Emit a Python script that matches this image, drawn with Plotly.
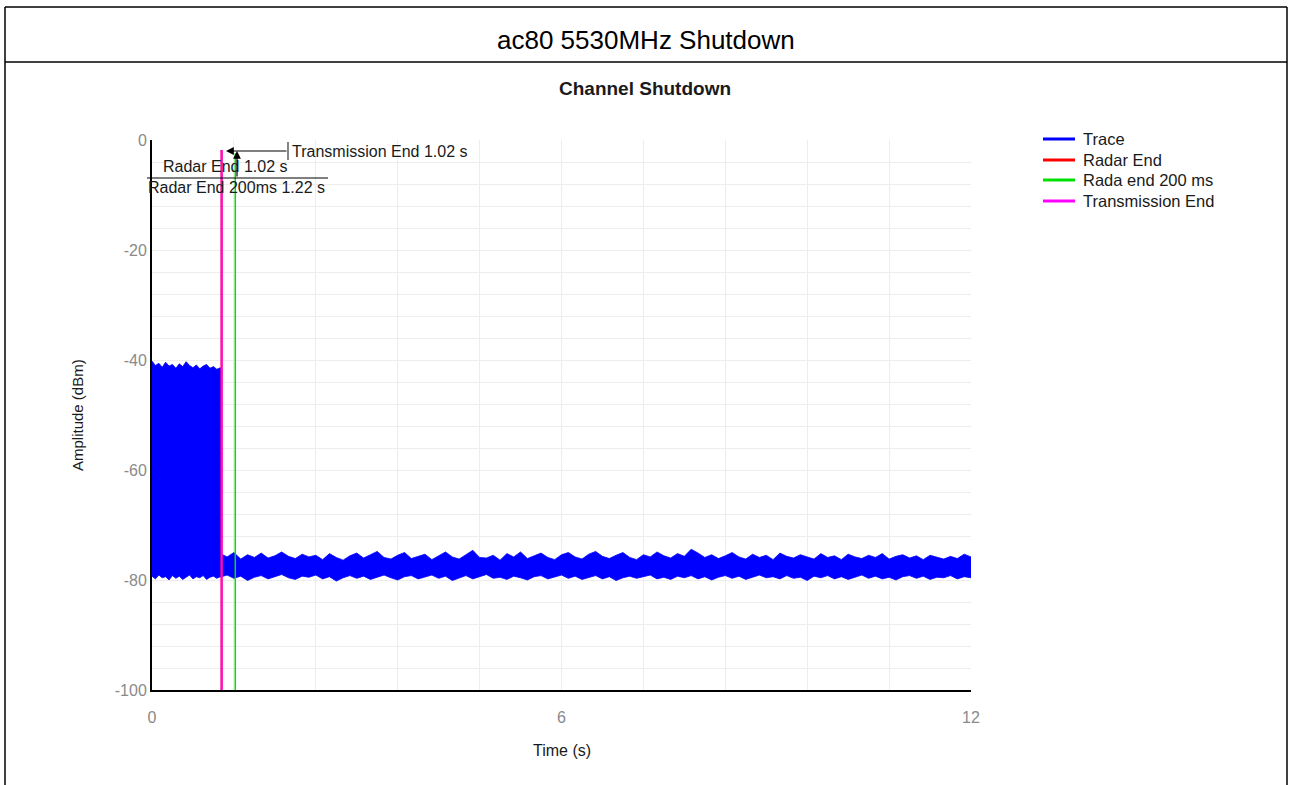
import plotly.graph_objects as go

# ---------------- data ----------------
# Transmission part (0 .. 1.02 s): envelope of the dense trace
T1 = [0.00, 0.05, 0.10, 0.15, 0.20, 0.25, 0.30, 0.35, 0.40, 0.45, 0.50,
      0.55, 0.60, 0.65, 0.70, 0.75, 0.80, 0.85, 0.90, 0.95, 1.00, 1.02]
U1 = [-40.2, -41.0, -40.6, -41.3, -40.4, -41.1, -40.8, -41.5, -40.7, -41.2, -40.3,
      -41.0, -41.4, -40.9, -41.6, -41.1, -40.8, -41.5, -41.2, -41.7, -41.4, -41.8]
L1 = [-79.3, -79.8, -79.1, -79.6, -79.4, -80.0, -79.2, -79.7, -79.3, -79.9, -79.5,
      -79.1, -79.8, -79.4, -79.6, -79.2, -79.9, -79.5, -79.3, -79.7, -79.4, -79.6]

# Noise floor after shutdown (1.02 .. 12 s): envelope of the dense trace
T2 = [1.02, 1.1, 1.2, 1.3, 1.4, 1.5, 1.6, 1.7, 1.8, 1.9, 2.0,
      2.1, 2.2, 2.3, 2.4, 2.5, 2.6, 2.7, 2.8, 2.9, 3.0,
      3.1, 3.2, 3.3, 3.4, 3.5, 3.6, 3.7, 3.8, 3.9, 4.0,
      4.1, 4.2, 4.3, 4.4, 4.5, 4.6, 4.7, 4.8, 4.9, 5.0,
      5.1, 5.2, 5.3, 5.4, 5.5, 5.6, 5.7, 5.8, 5.9, 6.0,
      6.1, 6.2, 6.3, 6.4, 6.5, 6.6, 6.7, 6.8, 6.9, 7.0,
      7.1, 7.2, 7.3, 7.4, 7.5, 7.6, 7.7, 7.8, 7.9, 8.0,
      8.1, 8.2, 8.3, 8.4, 8.5, 8.6, 8.7, 8.8, 8.9, 9.0,
      9.1, 9.2, 9.3, 9.4, 9.5, 9.6, 9.7, 9.8, 9.9, 10.0,
      10.1, 10.2, 10.3, 10.4, 10.5, 10.6, 10.7, 10.8, 10.9, 11.0,
      11.1, 11.2, 11.3, 11.4, 11.5, 11.6, 11.7, 11.8, 11.9, 12.0]
U2 = [-75.3, -75.8, -75.0, -76.2, -75.4, -75.9, -75.1, -76.0, -75.6, -74.9, -75.7,
      -76.1, -75.3, -75.8, -75.5, -76.3, -75.2, -75.9, -76.4, -75.6, -75.1,
      -76.0, -75.4, -74.8, -75.9, -76.2, -75.5, -75.0, -76.1, -75.7, -75.3,
      -76.3, -75.6, -74.9, -75.8, -76.2, -75.4, -74.6, -75.9, -76.0, -75.5,
      -76.4, -75.2, -75.8, -74.9, -76.1, -75.6, -75.1, -75.9, -76.3, -75.4,
      -75.0, -75.8, -76.2, -75.3, -74.8, -75.7, -76.1, -75.5, -75.0, -75.9,
      -76.3, -75.4, -75.8, -74.9, -75.6, -76.0, -75.2, -75.7, -74.4, -75.1,
      -75.9, -75.4, -76.1, -75.6, -75.0, -75.8, -76.2, -75.3, -75.9, -75.5,
      -76.3, -75.1, -75.7, -76.0, -75.4, -75.8, -76.2, -75.2, -75.9, -75.6,
      -76.3, -75.3, -75.8, -76.1, -75.5, -75.9, -75.2, -76.2, -75.7, -75.4,
      -76.0, -75.6, -76.3, -75.5, -75.9, -76.2, -75.7, -76.1, -75.3, -75.8]
L2 = [-79.4, -79.1, -79.7, -79.3, -80.1, -79.5, -79.2, -79.8, -79.4, -79.0, -79.6,
      -79.9, -79.3, -79.5, -79.1, -79.8, -79.4, -80.2, -79.6, -79.2, -79.7,
      -79.3, -79.9, -79.5, -79.1, -79.6, -80.0, -79.4, -79.2, -79.8, -79.5,
      -79.1, -79.7, -79.3, -80.1, -79.6, -79.2, -79.8, -79.4, -79.0, -79.7,
      -79.5, -79.9, -79.3, -79.6, -80.0, -79.4, -79.2, -79.8, -79.5, -79.1,
      -79.7, -79.3, -79.9, -79.5, -79.2, -79.8, -79.4, -80.1, -79.6, -79.3,
      -79.7, -79.4, -79.1, -79.8, -79.5, -79.9, -79.3, -79.6, -79.2, -79.8,
      -79.4, -80.0, -79.5, -79.2, -79.7, -79.3, -79.9, -79.5, -79.1, -79.6,
      -79.4, -79.8, -79.2, -79.7, -79.5, -80.1, -79.3, -79.6, -79.2, -79.8,
      -79.4, -79.9, -79.5, -79.1, -79.7, -79.3, -79.8, -79.5, -80.0, -79.4,
      -79.2, -79.7, -79.3, -79.9, -79.5, -79.6, -79.2, -79.8, -79.4, -79.6]

RADAR_END = 1.02          # s
RADAR_END_200 = 1.22      # s
TX_END = 1.02             # s
Y_MIN, Y_MAX = -100, 0
X_MIN, X_MAX = 0, 12
Y_TICKS = [0, -20, -40, -60, -80, -100]
Y_TICK_LABELS = ["0", "-20", "-40", "-60", "-80", "-100"]
X_TICKS = [0, 6, 12]
X_TICK_LABELS = ["0", "6", "12"]

SERIES_NAMES = ["Trace", "Radar End", "Rada end 200 ms", "Transmission End"]
SERIES_COLORS = ["#0000ff", "#ff0000", "#00e000", "#ff00ff"]

T = T1 + T2
U = U1 + U2
L = L1 + L2

FONT = "Liberation Sans, Arial, sans-serif"

fig = go.Figure()

# trace envelope (dense trace rendered as a filled band)
fig.add_trace(go.Scatter(x=T, y=U, mode="lines", name=SERIES_NAMES[0],
                         line=dict(color=SERIES_COLORS[0], width=0.8),
                         showlegend=False, hoverinfo="skip"))
fig.add_trace(go.Scatter(x=T, y=L, mode="lines", name=SERIES_NAMES[0],
                         line=dict(color=SERIES_COLORS[0], width=0.8),
                         fill="tonexty", fillcolor=SERIES_COLORS[0], showlegend=False, hoverinfo="skip"))

# vertical marker lines
fig.add_trace(go.Scatter(x=[RADAR_END, RADAR_END], y=[Y_MIN, -1.8], mode="lines",
                         name=SERIES_NAMES[1],
                         line=dict(color=SERIES_COLORS[1], width=2), showlegend=False))
fig.add_trace(go.Scatter(x=[RADAR_END_200, RADAR_END_200], y=[Y_MIN, -2.4], mode="lines",
                         name=SERIES_NAMES[2],
                         line=dict(color=SERIES_COLORS[2], width=1.5), showlegend=False))
fig.add_trace(go.Scatter(x=[TX_END, TX_END], y=[Y_MIN, -1.8], mode="lines",
                         name=SERIES_NAMES[3],
                         line=dict(color=SERIES_COLORS[3], width=2), showlegend=False))


def px(xp):
    return (xp - 152) / 819


def py(yp):
    return (690 - yp) / 550


# ---------------- legend (drawn manually for exact row spacing) ----------------
LEGEND_ROWS_Y = [139, 160, 180, 201]
for name, col, yy in zip(SERIES_NAMES, SERIES_COLORS, LEGEND_ROWS_Y):
    fig.add_shape(type="line", xref="paper", yref="paper", x0=px(1043), x1=px(1075),
                  y0=py(yy), y1=py(yy), line=dict(color=col, width=3))
    fig.add_annotation(x=px(1081), y=py(yy), xref="paper", yref="paper", text=name,
                       showarrow=False, xanchor="left", yanchor="middle",
                       font=dict(family=FONT, size=16.5, color="#1a1a1a"))

# ---------------- annotations inside the plot ----------------
txt_col = "#1a1a1a"
# Transmission End arrow (head at left, tail 62 px to the right)
fig.add_annotation(x=px(226), y=py(151), ax=62, ay=0,
                   xref="paper", yref="paper", text="", showarrow=True, arrowhead=2,
                   arrowsize=1.3, arrowwidth=1.2, arrowcolor="#000000")
fig.add_shape(type="line", x0=px(288), x1=px(288), y0=py(142), y1=py(160), xref="paper", yref="paper",
              line=dict(color="#333333", width=1.2))
fig.add_annotation(x=px(290), y=py(151), xref="paper", yref="paper", text="Transmission End 1.02 s",
                   showarrow=False, xanchor="left", yanchor="middle",
                   font=dict(family=FONT, size=16, color=txt_col))
# Radar End arrow (vertical, head at top)
fig.add_annotation(x=px(237), y=py(151), ax=0, ay=27,
                   xref="paper", yref="paper", text="", showarrow=True,
                   arrowhead=2, arrowsize=1.3, arrowwidth=1.2, arrowcolor="#000000")
fig.add_annotation(x=px(161), y=py(166), xref="paper", yref="paper", text="Radar End 1.02 s",
                   showarrow=False, xanchor="left", yanchor="middle",
                   font=dict(family=FONT, size=16, color=txt_col))
# horizontal line under "Radar End"
fig.add_shape(type="line", x0=px(147), x1=px(328), y0=py(178), y1=py(178),
              xref="paper", yref="paper", line=dict(color="#000000", width=1.2))
fig.add_annotation(x=px(146), y=py(187), xref="paper", yref="paper",
                   text="Radar End 200ms 1.22 s", showarrow=False, xanchor="left",
                   yanchor="middle", font=dict(family=FONT, size=16, color=txt_col))

# ---------------- outer frame & titles ----------------
frame = dict(color="#000000", width=1.5)
fig.add_shape(type="line", xref="paper", yref="paper", x0=px(5), x1=px(1287), y0=py(7), y1=py(7), line=frame)
fig.add_shape(type="line", xref="paper", yref="paper", x0=px(5), x1=px(1287), y0=py(62), y1=py(62), line=frame)
fig.add_shape(type="line", xref="paper", yref="paper", x0=px(5), x1=px(5), y0=py(7), y1=py(790), line=frame)
fig.add_shape(type="line", xref="paper", yref="paper", x0=px(1287), x1=px(1287), y0=py(7), y1=py(790), line=frame)

fig.add_annotation(x=px(646), y=py(40), xref="paper", yref="paper", text="ac80 5530MHz Shutdown",
                   showarrow=False, xanchor="center", yanchor="middle",
                   font=dict(family=FONT, size=26, color="#000000"))
fig.add_annotation(x=px(645), y=py(89), xref="paper", yref="paper", text="<b>Channel Shutdown</b>",
                   showarrow=False, xanchor="center", yanchor="middle",
                   font=dict(family=FONT, size=19, color="#1a1a1a"))
fig.add_annotation(x=px(562), y=py(750), xref="paper", yref="paper", text="Time (s)",
                   showarrow=False, xanchor="center", yanchor="middle",
                   font=dict(family=FONT, size=16, color="#1a1a1a"))
fig.add_annotation(x=px(77), y=py(415), xref="paper", yref="paper", text="Amplitude (dBm)",
                   showarrow=False, xanchor="center", yanchor="middle", textangle=-90,
                   font=dict(family=FONT, size=15, color="#1a1a1a"))

grid_col = "#ededed"
fig.update_layout(
    width=1293, height=785,
    margin=dict(l=152, r=322, t=140, b=95),
    paper_bgcolor="white", plot_bgcolor="white",
    font=dict(family=FONT, size=15, color="#1a1a1a"),
    showlegend=False,
    hovermode=False,
    xaxis=dict(range=[X_MIN, X_MAX], tickvals=X_TICKS, ticktext=X_TICK_LABELS,
               showgrid=True, gridcolor=grid_col,
               zeroline=False, showline=True, linecolor="#000000", linewidth=2,
               ticks="", ticklabelstandoff=12,
               tickfont=dict(family=FONT, size=16, color="#8a8a8a"),
               minor=dict(dtick=1.2, tick0=0, showgrid=True, gridcolor=grid_col)),
    yaxis=dict(range=[Y_MIN, Y_MAX], tickvals=Y_TICKS, ticktext=Y_TICK_LABELS,
               showgrid=True, gridcolor=grid_col,
               zeroline=False, showline=True, linecolor="#000000", linewidth=2,
               ticks="", tickfont=dict(family=FONT, size=16, color="#8a8a8a"),
               minor=dict(dtick=4, tick0=0, showgrid=True, gridcolor=grid_col)),
)

# remove the default 8px page margin so the figure fills the window exactly
fig.write_html("out.html", config={"displayModeBar": False},
               post_script="document.body.style.margin='0';document.body.style.overflow='hidden';")
